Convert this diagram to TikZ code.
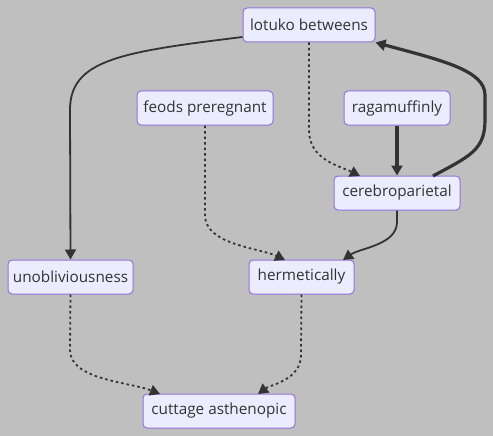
\documentclass[tikz,border=0pt]{standalone}
\usepackage{fontspec}
\setmainfont{Open Sans}
\usetikzlibrary{arrows.meta}
\definecolor{bg}{HTML}{BFBFBF}
\definecolor{nodefill}{HTML}{ECECFF}
\definecolor{nodeline}{HTML}{9370DB}
\definecolor{edge}{HTML}{333333}
\tikzset{
  box/.style={draw=nodeline, fill=nodefill, line width=1pt, rounded corners=4pt,
    minimum height=34pt, inner sep=0pt, font=\fontsize{15.3}{17}\selectfont, text=edge},
  link/.style={draw=edge, line width=1.8pt, -{Triangle[length=10pt,width=11pt]}},
  thicklink/.style={draw=edge, line width=3.2pt, -{Triangle[length=10pt,width=11pt]}},
  dotlink/.style={draw=edge, line width=1.8pt, dash pattern=on 2.5pt off 3pt, -{Triangle[length=10pt,width=11pt]}}
}
\begin{document}
\begin{tikzpicture}[x=1pt,y=-1pt]
\fill[bg] (0,0) rectangle (493,436);
\useasboundingbox (0,0) rectangle (493,436);
\node[box, minimum width=132pt] (lot) at (309,25) {lotuko betweens};
\node[box, minimum width=136pt] (feo) at (205,108) {feods preregnant};
\node[box, minimum width=106pt] (rag) at (397,108) {ragamuffinly};
\node[box, minimum width=126pt] (cer) at (397,193) {cerebroparietal};
\node[box, minimum width=125pt] (unb) at (70.5,277) {unobliviousness};
\node[box, minimum width=105pt] (her) at (301.5,277) {hermetically};
\node[box, minimum width=152pt] (cut) at (219,411) {cuttage asthenopic};

\draw[link] (lot.west |- 0,37) .. controls (120,52) and (70,60) .. (70,110) -- (unb.north);
\draw[dotlink] (lot.south) -- (309,130) .. controls (309,160) and (340,166) .. (360,176);
\draw[thicklink] (rag.south) -- (cer.north);
\draw[thicklink] (433,176) .. controls (470,156) and (485,150) .. (485,120) -- (485,95) .. controls (485,70) and (440,60) .. (lot.south east);
\draw[dotlink] (feo.south) -- (205,215) .. controls (205,245) and (260,248) .. (285,260);
\draw[link] (cer.south) -- (397,222) .. controls (397,245) and (360,248) .. (343,260);
\draw[dotlink] (unb.south) -- (70,350) .. controls (70,380) and (130,382) .. (160,394);
\draw[dotlink] (her.south) -- (301,355) .. controls (301,380) and (270,385) .. (258,394);
\end{tikzpicture}
\end{document}
